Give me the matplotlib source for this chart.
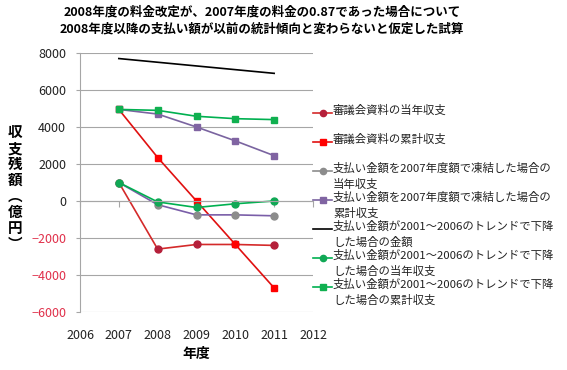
import matplotlib
matplotlib.use('Agg')
import matplotlib.pyplot as plt
from matplotlib.lines import Line2D

plt.rcParams['font.family'] = ['Noto Sans CJK JP', 'DejaVu Sans']

# データ（図から読み取り、単位：億円）
years = [2007, 2008, 2009, 2010, 2011]
shingikai_tounen = [1000, -2600, -2350, -2350, -2400]
shingikai_ruikei = [4950, 2350, 0, -2350, -4700]
touketsu_tounen = [1000, -200, -750, -750, -800]
touketsu_ruikei = [4950, 4700, 4000, 3250, 2450]
trend_kingaku = [7700, 7500, 7300, 7100, 6900]
trend_tounen = [1000, -50, -350, -150, 0]
trend_ruikei = [4950, 4900, 4580, 4450, 4400]

labels = ['審議会資料の当年収支',
          '審議会資料の累計収支',
          '支払い金額を2007年度額で凍結した場合の\n当年収支',
          '支払い金額を2007年度額で凍結した場合の\n累計収支',
          '支払い金額が2001～2006のトレンドで下降\nした場合の金額',
          '支払い金額が2001～2006のトレンドで下降\nした場合の当年収支',
          '支払い金額が2001～2006のトレンドで下降\nした場合の累計収支']

# (値, 線の色, 凡例の線の色, マーカー, マーカー色)
series = [
    (shingikai_tounen, '#d42a2a', '#d42a2a', 'o', '#b5203a'),
    (shingikai_ruikei, '#e01010', '#e01010', 's', '#ff0000'),
    (touketsu_tounen, '#7a5ea8', '#8c8c8c', 'o', '#8c8c8c'),
    (touketsu_ruikei, '#7a64a0', '#7a64a0', 's', '#8064a2'),
    (trend_kingaku, '#000000', '#000000', None, None),
    (trend_tounen, '#00b050', '#00b050', 'o', '#10a855'),
    (trend_ruikei, '#00b050', '#00b050', 's', '#10b050'),
]

W, H = 567, 370
fig = plt.figure(figsize=(W / 100, H / 100), dpi=100)
ax = fig.add_axes([80 / W, 1 - 312 / H, (313 - 80) / W, (312 - 53) / H])

for (vals, lc, hc, mk, mc), lab in zip(series, labels):
    ax.plot(years, vals, color=lc, lw=1.2, marker=mk, markersize=5,
            markerfacecolor=mc, markeredgecolor=mc, label=lab)

ax.set_xlim(2006, 2012)
ax.set_ylim(-6000, 8000)
ax.set_yticks(range(-6000, 8001, 2000))
ax.yaxis.grid(True, color='#a6a6a6', lw=0.8)
ax.set_axisbelow(True)
for s in ['top', 'right']:
    ax.spines[s].set_visible(False)
ax.spines['left'].set_color('#a6a6a6')
ax.spines['bottom'].set_position(('data', 0))
ax.spines['bottom'].set_color('#a6a6a6')
ax.set_xticks(range(2006, 2013))
ax.tick_params(axis='x', labelbottom=False, length=4, color='#a6a6a6')
ax.tick_params(axis='y', length=3, color='#a6a6a6', pad=7, labelsize=9)
for t, v in zip(ax.get_yticklabels(), ax.get_yticks()):
    t.set_color('#e0304a' if v < 0 else '#222222')

secax = ax.secondary_xaxis('bottom')
secax.set_xticks(range(2006, 2013))
secax.tick_params(length=0, pad=12, labelsize=9, labelcolor='#222222')
secax.spines['bottom'].set_visible(False)
secax.set_xlabel('年度', fontsize=10, fontweight='bold', labelpad=4)

fig.text(15 / W, 1 - 188 / H, '収\n支\n残\n額\n︵\n億\n円\n︶', ha='center', va='center',
         fontsize=10.5, fontweight='bold', linespacing=1.0)

fig.suptitle('2008年度の料金改定が、2007年度の料金の0.87であった場合について\n'
             '2008年度以降の支払い額が以前の統計傾向と変わらないと仮定した試算',
             x=262 / W, y=1 - 6 / H, va='top', fontsize=9, fontweight='bold', linespacing=1.35)

# 凡例（Excel風に手で並べる）
ys = [113, 142, 171, 200, 229, 258, 287]
for (vals, lc, hc, mk, mc), lab, yy in zip(series, labels, ys):
    fy = 1 - yy / H
    fig.add_artist(Line2D([313 / W, 332 / W], [fy, fy], color=hc, lw=1.2,
                          transform=fig.transFigure))
    if mk:
        fig.add_artist(Line2D([322.5 / W], [fy], marker=mk, markersize=4.5, color=mc,
                              transform=fig.transFigure))
    fig.text(333 / W, 1 - (yy - 8) / H, lab, ha='left', va='top', fontsize=8.2,
             linespacing=1.45, color='#222222')

fig.savefig('out.png', dpi=100)
